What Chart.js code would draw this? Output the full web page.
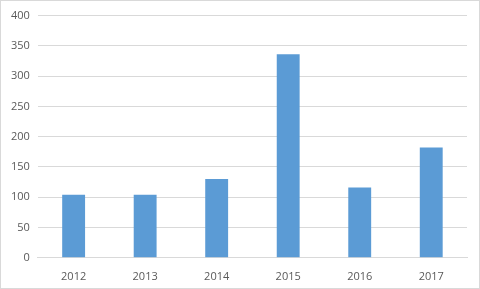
<!DOCTYPE html>
<html>
<head>
<meta charset="utf-8">
<script src="https://cdn.jsdelivr.net/npm/chart.js@4/dist/chart.umd.min.js"></script>
<style>
  html, body { margin: 0; padding: 0; background: #fff; }
  #wrap { position: absolute; left: 0; top: 0; width: 478px; height: 287px; border: 1px solid #d9d9d9; }
</style>
</head>
<body>
<div id="wrap"><canvas id="myChart"></canvas></div>
<script>
var years = ['2012', '2013', '2014', '2015', '2016', '2017'];
var values = [104, 104, 130, 336, 116, 182];
var yTicks = [0, 50, 100, 150, 200, 250, 300, 350, 400];

var ctx = document.getElementById('myChart');
var chartdata = {
    labels: years,
    datasets: [
        {
            label: 'Value',
            backgroundColor: '#5b9bd5',
            barPercentage: 0.64,
            categoryPercentage: 0.5,
            data: values
        }
    ]
};
var options = {
    maintainAspectRatio: false,
    responsive: true,
    animation: false,
    layout: { padding: { left: 2, right: 12, top: 8, bottom: 1 } },
    plugins: {
        legend: { display: false },
        tooltip: { enabled: false }
    },
    scales: {
        y: {
            min: 0,
            max: 400,
            afterBuildTicks: function(axis){
                axis.ticks = yTicks.map(function(v){ return { value: v }; });
            },
            grid: { color: '#d9d9d9', drawTicks: false },
            border: { display: false },
            ticks: { color: '#595959', padding: 8, font: { family: 'Open Sans', size: 11 } }
        },
        x: {
            grid: { display: false },
            border: { color: '#d9d9d9' },
            ticks: { color: '#595959', padding: 4, font: { family: 'Open Sans', size: 11 } }
        }
    }
};
new Chart(ctx, { type: 'bar', data: chartdata, options: options });
</script>
</body>
</html>
